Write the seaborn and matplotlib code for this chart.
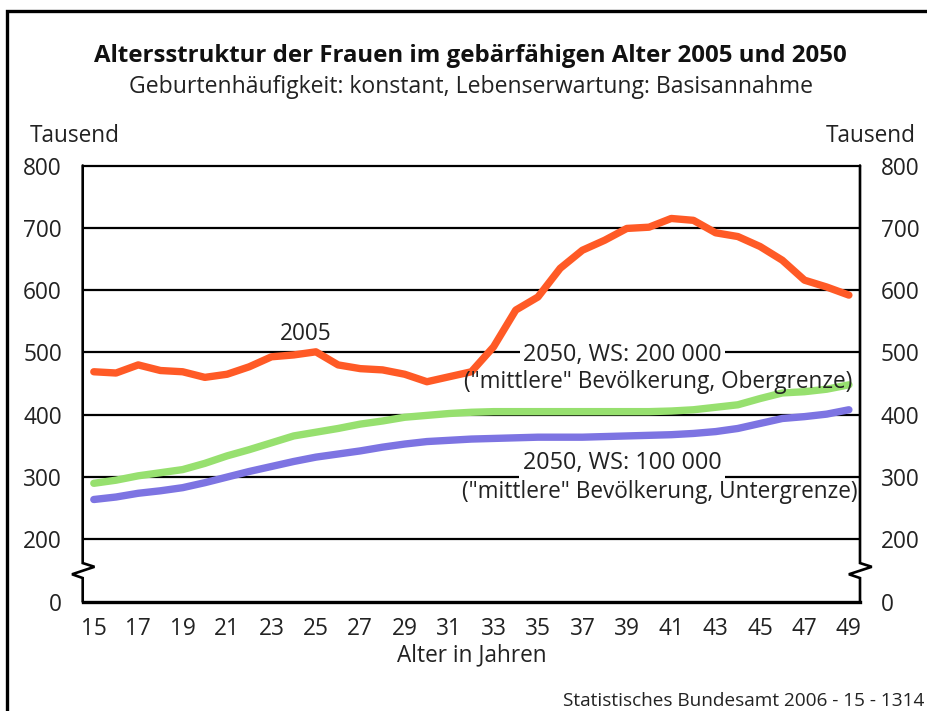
import pandas as pd
import seaborn as sns
import matplotlib.pyplot as plt
from matplotlib.patches import Rectangle

# Alter 15 bis 49, Werte in Tausend
alter = list(range(15, 50))
frauen_2005 = [469, 467, 480, 471, 469, 460, 465, 477, 493, 496, 501, 480, 474, 472, 465,
               453, 461, 469, 509, 568, 589, 635, 664, 680, 699, 701, 715, 712, 692, 686,
               670, 648, 616, 605, 592]
frauen_2050_ws200 = [290, 295, 302, 307, 312, 322, 334, 344, 355, 366, 372, 378, 385, 390, 396,
                     399, 402, 404, 405, 405, 405, 405, 405, 405, 405, 405, 406, 408, 412, 416,
                     426, 435, 437, 441, 448]
frauen_2050_ws100 = [264, 268, 274, 278, 283, 291, 300, 309, 317, 325, 332, 337, 342, 348, 353,
                     357, 359, 361, 362, 363, 364, 364, 364, 365, 366, 367, 368, 370, 373, 378,
                     386, 394, 397, 401, 408]
y_ticks = [100, 200, 300, 400, 500, 600, 700, 800]
y_labels = ["0", "200", "300", "400", "500", "600", "700", "800"]
x_labels = list(range(15, 50, 2))

df = pd.DataFrame({
    "Alter": alter * 3,
    "Wert": frauen_2005 + frauen_2050_ws200 + frauen_2050_ws100,
    "Reihe": ["2005"] * 35 + ["ws200"] * 35 + ["ws100"] * 35,
})

sns.set_style("white")
plt.rcParams["font.family"] = ["Open Sans", "DejaVu Sans"]

W, H = 928, 711
fs = 16.3
txt = "#222222"
fig = plt.figure(figsize=(W / 100, H / 100), dpi=100)
ax = fig.add_axes([82.7 / W, 1 - 601.7 / H, (860 - 82.7) / W, (601.7 - 165.5) / H])

farben = {"2005": "#FF5A26", "ws200": "#97E06F", "ws100": "#7D74E2"}
sns.lineplot(data=df, x="Alter", y="Wert", hue="Reihe", palette=farben,
             linewidth=5.3, legend=False, ax=ax, zorder=3)

ax.set_xlim(14.5, 49.5)
ax.set_ylim(100, 800)
ax.set_yticks(y_ticks)
ax.set_yticklabels(y_labels)
ax.set_xticks(x_labels)
ax.set_xticklabels([str(v) for v in x_labels])
ax.set_xticks([a + 0.5 for a in range(14, 50)], minor=True)
ax.tick_params(axis="x", which="major", length=0, labelsize=fs, pad=11, colors=txt)
ax.tick_params(axis="x", which="minor", length=8, width=2, direction="out", color="black")
ax.tick_params(axis="y", length=0, labelsize=fs, pad=15, labelleft=True, labelright=True,
               colors=txt)
ax.set_xlabel("Alter in Jahren", fontsize=fs, color=txt, labelpad=2)
ax.set_ylabel("")

for y in [200, 300, 400, 500, 600, 700]:
    ax.axhline(y, color="black", lw=1.6, zorder=1)

for side in ["left", "right"]:
    ax.spines[side].set_visible(False)
ax.spines["top"].set_linewidth(1.6)
ax.spines["bottom"].set_linewidth(2.4)
ax.spines["bottom"].set_color("black")
ax.spines["top"].set_color("black")

# Achsen mit Bruchzeichen
ax.plot([14.5, 14.5, 15.03, 14.02, 14.5, 14.5], [800, 162, 156, 144, 138, 100],
        color="black", lw=1.9, clip_on=False, zorder=4, solid_joinstyle="miter")
ax.plot([49.5, 49.5, 50.03, 49.0, 49.5, 49.5], [800, 162, 156, 144, 138, 100],
        color="black", lw=1.9, clip_on=False, zorder=4, solid_joinstyle="miter")

weiss = dict(facecolor="white", edgecolor="none", pad=2.5)
ax.text(24.55, 520, "2005", fontsize=fs, ha="center", va="baseline", color=txt)
ax.text(38.8, 496, "2050, WS: 200 000", fontsize=fs + 0.5, ha="center", va="center",
        color=txt, bbox=weiss, zorder=2)
ax.text(49.14, 452.5, "(\"mittlere\" Bevölkerung, Obergrenze)", fontsize=fs, ha="right",
        va="center", color=txt, zorder=5)
ax.text(38.8, 322.5, "2050, WS: 100 000", fontsize=fs + 0.5, ha="center", va="center",
        color=txt, bbox=weiss, zorder=2)
ax.text(49.4, 276, "(\"mittlere\" Bevölkerung, Untergrenze)", fontsize=fs, ha="right",
        va="center", color=txt, zorder=5)

fig.text(470 / W, 1 - 61.7 / H, "Altersstruktur der Frauen im gebärfähigen Alter 2005 und 2050",
         fontsize=17.3, fontweight="bold", ha="center", va="baseline", color="#111111")
fig.text(471 / W, 1 - 92.7 / H, "Geburtenhäufigkeit: konstant, Lebenserwartung: Basisannahme",
         fontsize=16.6, ha="center", va="baseline", color=txt)
fig.text(30 / W, 1 - 136 / H, "Tausend", fontsize=fs, ha="left", va="center", color=txt)
fig.text(916 / W, 1 - 136 / H, "Tausend", fontsize=fs, ha="right", va="center", color=txt)
fig.text(924 / W, 1 - 701 / H, "Statistisches Bundesamt 2006 - 15 - 1314", fontsize=13.7,
         ha="right", va="center", color=txt)

fig.patches.append(Rectangle((7 / W, -0.1), 1.2, 1 - 11 / H + 0.1, transform=fig.transFigure,
                             fill=False, edgecolor="black", lw=2.4))

fig.savefig("out.png", dpi=100)
